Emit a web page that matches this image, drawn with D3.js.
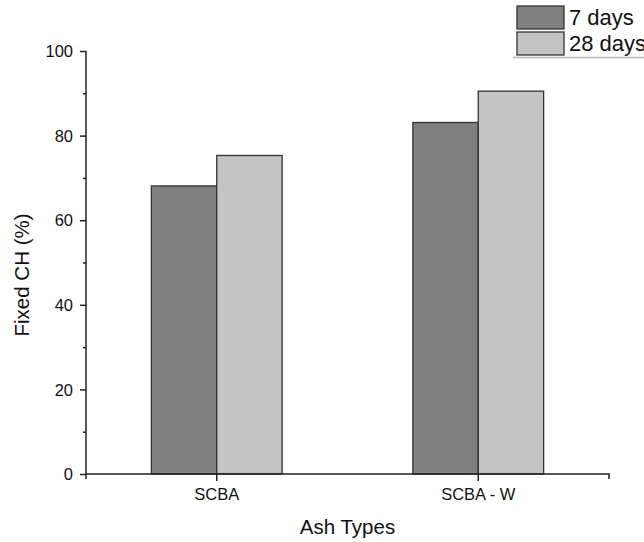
<!DOCTYPE html>
<html>
<head>
<meta charset="utf-8">
<script src="https://cdn.jsdelivr.net/npm/d3@7"></script>
<style>
  body { margin: 0; background: #fff; }
  text { font-family: "Liberation Sans", Arial, sans-serif; fill: #111; }
</style>
</head>
<body>
<svg width="644" height="542"></svg>
<script>
// data
const categories = ['SCBA', 'SCBA - W'];
const seriesNames = ['7 days', '28 days'];
const values7 = [68.1, 83.1];
const values28 = [75.3, 90.5];
const yTicks = [0, 20, 40, 60, 80, 100];
const colors = ['#808080', '#c4c4c4'];

const svg = d3.select('svg');
const margin = {top: 51, right: 35, bottom: 68, left: 86};
const width = 644 - margin.left - margin.right;
const height = 542 - margin.top - margin.bottom;
const g = svg.append('g').attr('transform', `translate(${margin.left},${margin.top})`);

const x = d3.scaleBand().domain(categories).range([0, width]);
const xs = d3.scaleBand().domain(seriesNames).range([0, x.bandwidth() / 2]);
const y = d3.scaleLinear().domain([0, 100]).range([height, 0]);

const rows = categories.map((c, i) => ({cat: c, vals: [values7[i], values28[i]]}));

// bars
g.selectAll('.grp')
  .data(rows).enter()
  .append('g')
  .attr('transform', d => `translate(${x(d.cat) + x.bandwidth() / 4},0)`)
  .selectAll('rect')
  .data(d => d.vals.map((v, k) => ({name: seriesNames[k], v: v, k: k})))
  .enter().append('rect')
  .attr('x', d => xs(d.name))
  .attr('width', xs.bandwidth())
  .attr('y', d => y(d.v))
  .attr('height', d => height - y(d.v))
  .attr('fill', d => colors[d.k])
  .attr('stroke', '#333')
  .attr('stroke-width', 1.3);

// y axis
const yAxis = g.append('g')
  .call(d3.axisLeft(y).tickValues(yTicks).tickSize(6).tickPadding(7).tickFormat(d3.format('d')));
yAxis.select('.domain').attr('stroke', '#222').attr('stroke-width', 1.5).attr('d', `M0,0V${height + 5}`);
yAxis.selectAll('.tick line').attr('stroke', '#222').attr('stroke-width', 1.5);
yAxis.selectAll('.tick text').style('font-size', '16.5px').attr('dy', '0.35em');

const yMinor = g.append('g')
  .call(d3.axisLeft(y).tickValues(d3.range(10, 100, 20)).tickSize(3).tickFormat(''));
yMinor.select('.domain').remove();
yMinor.selectAll('.tick line').attr('stroke', '#222').attr('stroke-width', 1.5);

// x axis
const xAxis = g.append('g')
  .attr('transform', `translate(0,${height})`)
  .call(d3.axisBottom(x).tickSize(7).tickPadding(7));
xAxis.select('.domain').attr('stroke', '#222').attr('stroke-width', 1.5).attr('d', `M0,0H${width}V5`);
xAxis.selectAll('.tick line').attr('stroke', '#222').attr('stroke-width', 1.5);
xAxis.selectAll('.tick text').style('font-size', '16.5px');

// axis titles
svg.append('text')
  .attr('transform', `translate(29,275) rotate(-90)`)
  .attr('text-anchor', 'middle')
  .style('font-size', '20.5px')
  .text('Fixed CH (%)');

svg.append('text')
  .attr('x', margin.left + width / 2)
  .attr('y', 534)
  .attr('text-anchor', 'middle')
  .style('font-size', '20.5px')
  .text('Ash Types');

// legend
const legend = svg.append('g').attr('transform', 'translate(517,6)');
legend.append('line')
  .attr('x1', -4).attr('x2', 140).attr('y1', 51.5).attr('y2', 51.5)
  .attr('stroke', '#bbb').attr('stroke-width', 1.5);
const item = legend.selectAll('.item')
  .data(seriesNames).enter()
  .append('g')
  .attr('transform', (d, i) => `translate(0,${i * 26})`);
item.append('rect')
  .attr('width', 47).attr('height', 23)
  .attr('fill', (d, i) => colors[i])
  .attr('stroke', '#333').attr('stroke-width', 1.3);
item.append('text')
  .attr('x', 52).attr('y', 19)
  .style('font-size', '22px')
  .text(d => d);
</script>
</body>
</html>
